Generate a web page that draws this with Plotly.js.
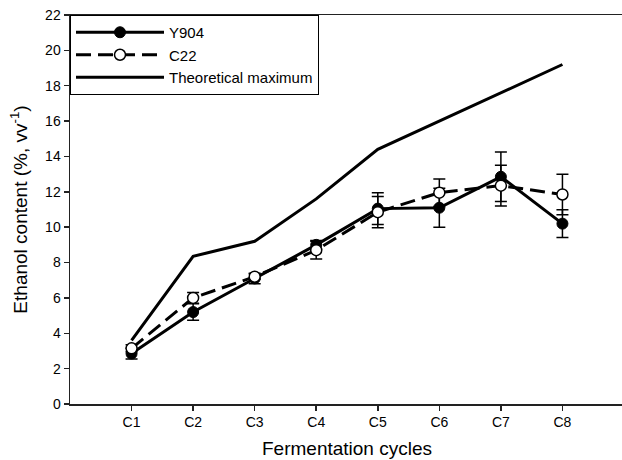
<!DOCTYPE html>
<html>
<head>
<meta charset="utf-8">
<script src="https://cdn.plot.ly/plotly-3.0.1.min.js"></script>
<style>
html,body{margin:0;padding:0;overflow:hidden;background:#fff;width:622px;height:460px;}
#chart{width:640px;height:460px;}
</style>
</head>
<body>
<div id="chart"></div>
<script>
const cycles = ["C1","C2","C3","C4","C5","C6","C7","C8"];
const y904 = [2.85, 5.2, 7.1, 9.0, 11.05, 11.1, 12.85, 10.2];
const y904Err = [0.3, 0.47, 0.3, 0.25, 0.9, 1.1, 1.4, 0.78];
const c22 = [3.15, 6.0, 7.2, 8.7, 10.85, 11.95, 12.35, 11.85];
const c22Err = [0.2, 0.3, 0.15, 0.5, 0.88, 0.78, 1.15, 1.15];
const theoretical = [3.6, 8.35, 9.2, 11.6, 14.4, 16.0, 17.6, 19.2];

const fam = '"Liberation Sans", Arial, sans-serif';

const traces = [
  {
    name: 'Y904', x: cycles, y: y904, type: 'scatter', mode: 'lines+markers',
    line: {color: '#000', width: 3},
    marker: {color: '#000', size: 11, line: {color: '#000', width: 1}},
    error_y: {type: 'data', array: y904Err, visible: true, color: '#000', thickness: 1.5, width: 6}
  },
  {
    name: 'C22', x: cycles, y: c22, type: 'scatter', mode: 'lines+markers',
    line: {color: '#000', width: 3, dash: '15px,7px'},
    marker: {color: '#fff', size: 11, line: {color: '#000', width: 1.5}},
    error_y: {type: 'data', array: c22Err, visible: true, color: '#000', thickness: 1.5, width: 6}
  },
  {
    name: 'Theoretical maximum', x: cycles, y: theoretical, type: 'scatter', mode: 'lines',
    line: {color: '#000', width: 3}
  }
];

const layout = {
  width: 640, height: 460,
  margin: {l: 70, r: 16, t: 15, b: 56},
  paper_bgcolor: '#fff', plot_bgcolor: '#fff',
  font: {family: fam, color: '#000', size: 14},
  showlegend: true,
  legend: {
    x: 0, y: 1, xanchor: 'left', yanchor: 'top',
    bordercolor: '#000', borderwidth: 1, bgcolor: '#fff',
    font: {family: fam, size: 15, color: '#000'},
    itemwidth: 88, tracegroupgap: 0
  },
  xaxis: {
    type: 'category', range: [-1, 8],
    showgrid: false, zeroline: false,
    showline: true, linecolor: '#222', linewidth: 1.5, mirror: true,
    ticks: 'outside', ticklen: 5, tickcolor: '#222', tickwidth: 1.5,
    tickfont: {family: fam, size: 14, color: '#000'},
    title: {text: 'Fermentation cycles', font: {family: fam, size: 19, color: '#000'}, standoff: 12}
  },
  yaxis: {
    range: [0, 22], dtick: 2, tick0: 0,
    showgrid: false, zeroline: false,
    showline: true, linecolor: '#222', linewidth: 1.5, mirror: true,
    ticks: 'outside', ticklen: 5, tickcolor: '#222', tickwidth: 1.5,
    tickfont: {family: fam, size: 14, color: '#000'},
    title: {text: 'Ethanol content (%, vv<sup>-1</sup>)', font: {family: fam, size: 19, color: '#000'}, standoff: 12}
  }
};

Plotly.newPlot('chart', traces, layout, {displayModeBar: false, staticPlot: true});
</script>
</body>
</html>
